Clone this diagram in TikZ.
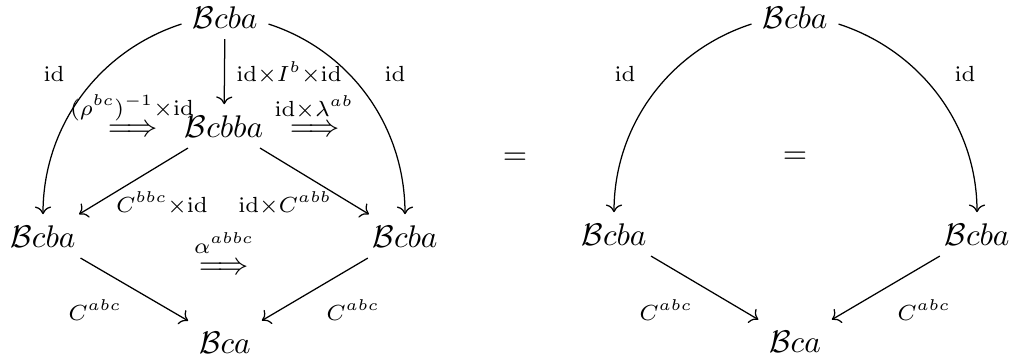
\documentclass[tikz,border=0pt]{standalone}
\usepackage{amsmath}
\usetikzlibrary{arrows.meta}
\begin{document}
\begin{tikzpicture}[x=0.3195pt,y=0.3195pt,
  ob/.style={anchor=base,inner sep=3.33pt},
  lab/.style={anchor=base,inner sep=0pt},
  cen/.style={inner sep=0pt},
  mor/.style={-{Computer Modern Rightarrow},line width=0.4pt},
  arcl/.style={mor,out=198,in=90,looseness=0.95},
  arcr/.style={mor,out=-18,in=90,looseness=0.95}]
\useasboundingbox (0,0) rectangle (1016,-363);
% left diagram
\node[ob] (t) at (225,-28) {$\mathcal{B}cba$};
\node[ob] (m) at (224,-137) {$\mathcal{B}cbba$};
\node[ob] (l) at (43,-247) {$\mathcal{B}cba$};
\node[ob] (r) at (405,-247) {$\mathcal{B}cba$};
\node[ob] (b) at (225,-353) {$\mathcal{B}ca$};
\draw[arcl] (t.189) to (l);
\draw[arcr] (t.-9) to (r);
\draw[mor] (t) -- (m);
\draw[mor] (m) -- (l);
\draw[mor] (m) -- (r);
\draw[mor] (l) -- (b);
\draw[mor] (r) -- (b);
\node[lab] (lid1) at (54,-81.7) {$\scriptstyle \mathrm{id}$};
\node[lab] (lid2) at (395,-81.7) {$\scriptstyle \mathrm{id}$};
\node[lab] (lidI) at (289,-81.7) {$\scriptstyle \mathrm{id}\times I^b\times\mathrm{id}$};
\node[lab] (lrho) at (132,-115) {$\scriptstyle (\rho^{bc})^{-1}\times\mathrm{id}$};
\node[lab] (llam) at (314,-116) {$\scriptstyle \mathrm{id}\times\lambda^{ab}$};
\node[cen] (ar1) at (133,-131) {$\Longrightarrow$};
\node[cen] (ar2) at (315,-131) {$\Longrightarrow$};
\node[lab] (lcb) at (162,-212) {$\scriptstyle C^{bbc}\times\mathrm{id}$};
\node[lab] (lca) at (285,-212) {$\scriptstyle \mathrm{id}\times C^{abb}$};
\node[lab] (lal) at (224,-253) {$\scriptstyle \alpha^{abbc}$};
\node[cen] (ar3) at (224,-269) {$\Longrightarrow$};
\node[lab] (lc1) at (95,-320) {$\scriptstyle C^{abc}$};
\node[lab] (lc2) at (353,-320) {$\scriptstyle C^{abc}$};
% equals
\node[cen] (eq1) at (515,-159) {$=$};
% right diagram
\node[ob] (t2) at (795,-28) {$\mathcal{B}cba$};
\node[ob] (l2) at (614,-245) {$\mathcal{B}cba$};
\node[ob] (r2) at (977,-245) {$\mathcal{B}cba$};
\node[ob] (b2) at (795,-352) {$\mathcal{B}ca$};
\draw[arcl] (t2.189) to (l2);
\draw[arcr] (t2.-9) to (r2);
\draw[mor] (l2) -- (b2);
\draw[mor] (r2) -- (b2);
\node[lab] (rid1) at (625,-81.7) {$\scriptstyle \mathrm{id}$};
\node[lab] (rid2) at (965,-81.7) {$\scriptstyle \mathrm{id}$};
\node[cen] (eq2) at (795,-158) {$=$};
\node[lab] (rc1) at (666,-320) {$\scriptstyle C^{abc}$};
\node[lab] (rc2) at (924,-320) {$\scriptstyle C^{abc}$};
\end{tikzpicture}
\end{document}
